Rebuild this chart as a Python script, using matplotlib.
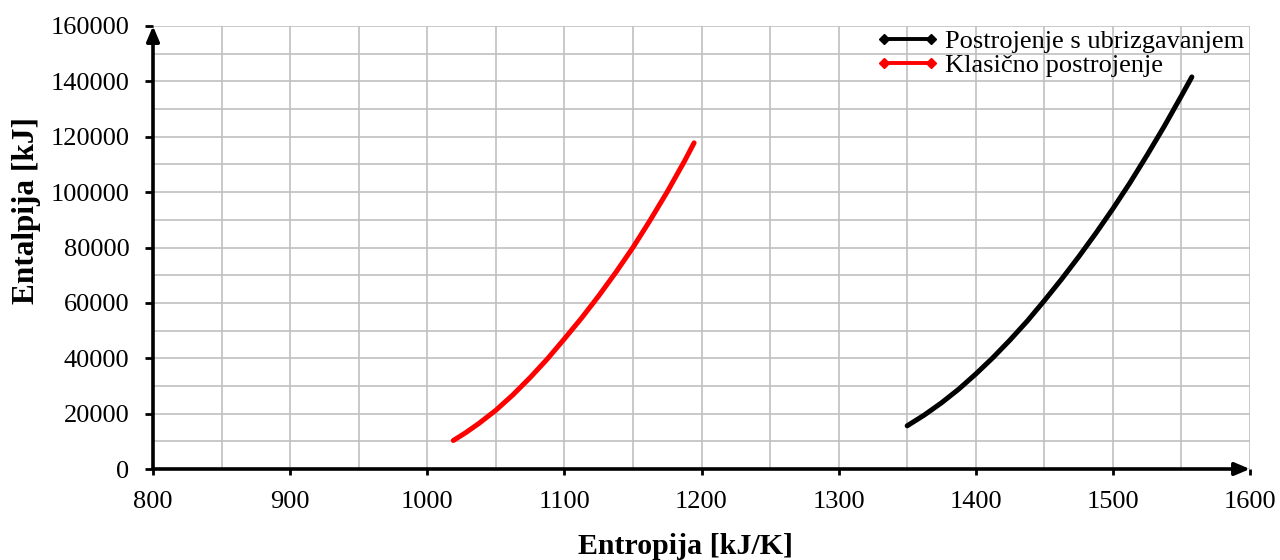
import matplotlib
matplotlib.use("Agg")
import matplotlib.pyplot as plt
from matplotlib.lines import Line2D
from matplotlib.ticker import MultipleLocator

plt.rcParams['font.family'] = ['Liberation Serif', 'DejaVu Serif']

# Data
s_ubrizg = [1350, 1362.5, 1375, 1387.5, 1400, 1412.5, 1425, 1437.5, 1450,
            1462.5, 1475, 1487.5, 1500, 1512.5, 1525, 1537.5, 1550, 1557.6]
h_ubrizg = [15600, 19500, 23900, 28800, 34300, 40200, 46600, 53400, 60800,
            68500, 76600, 85100, 94000, 103400, 113400, 123800, 134800, 141600]

s_klas = [1019, 1028, 1037.5, 1050, 1062.5, 1075, 1087.5, 1100, 1112.5, 1125,
          1137.5, 1150, 1162.5, 1175, 1187.5, 1194.6]
h_klas = [10300, 13100, 16400, 21200, 26800, 33000, 39700, 47000, 54500, 62500,
          71000, 80000, 89800, 100100, 111100, 117800]

series_names = ["Postrojenje s ubrizgavanjem", "Klasično postrojenje"]
series_colors = ["#000000", "#ff0000"]
x_label = "Entropija [kJ/K]"
y_label = "Entalpija [kJ]"

fig = plt.figure(figsize=(12.8, 5.6), dpi=100)
ax = fig.add_axes([153/1280, 1-469/560, (1250-153)/1280, (469-26)/560])

ax.plot(s_ubrizg, h_ubrizg, color=series_colors[0], lw=3.6, solid_capstyle='round',
        solid_joinstyle='round', zorder=3)
ax.plot(s_klas, h_klas, color=series_colors[1], lw=3.6, solid_capstyle='round',
        solid_joinstyle='round', zorder=3)

ax.set_xlim(800, 1600)
ax.set_ylim(0, 160000)
ax.xaxis.set_major_locator(MultipleLocator(100))
ax.xaxis.set_minor_locator(MultipleLocator(50))
ax.yaxis.set_major_locator(MultipleLocator(20000))
ax.yaxis.set_minor_locator(MultipleLocator(10000))
ax.grid(True, which='both', color='#c0c0c0', lw=1.2, zorder=0)
ax.set_axisbelow(True)

for sp in ax.spines.values():
    sp.set_visible(False)

ax.tick_params(axis='y', which='major', direction='out', length=6, width=2, pad=11, labelsize=19)
ax.tick_params(axis='x', which='major', direction='out', length=4, width=2, pad=12, labelsize=19)
ax.tick_params(which='minor', length=0)

# axis lines with arrow heads
arrow_style = '-|>,head_length=0.9,head_width=0.38'
ax.annotate('', xy=(0, 1.0), xytext=(0, 0), xycoords='axes fraction',
            arrowprops=dict(arrowstyle=arrow_style, color='black', lw=2.6,
                            shrinkA=0, shrinkB=0), annotation_clip=False, zorder=5)
ax.annotate('', xy=(1.0, 0), xytext=(0, 0), xycoords='axes fraction',
            arrowprops=dict(arrowstyle=arrow_style, color='black', lw=2.6,
                            shrinkA=0, shrinkB=0), annotation_clip=False, zorder=5)

fig.text(685/1280, 1-547/560, x_label, ha='center', va='center', fontsize=21.5, fontweight='bold')
fig.text(27/1280, 1-211/560, y_label, ha='center', va='center', rotation=90, fontsize=22.5,
         fontweight='bold')

handles = [Line2D([], [], color=c, lw=2.8, marker='D', markersize=5) for c in series_colors]
leg = ax.legend(handles, series_names, loc='upper right', bbox_to_anchor=(1.004, 1.015),
                frameon=False, fontsize=19, numpoints=2, handlelength=2.4, handletextpad=0.2,
                labelspacing=0.0, borderaxespad=0.0)

fig.savefig("out.png", dpi=100)
